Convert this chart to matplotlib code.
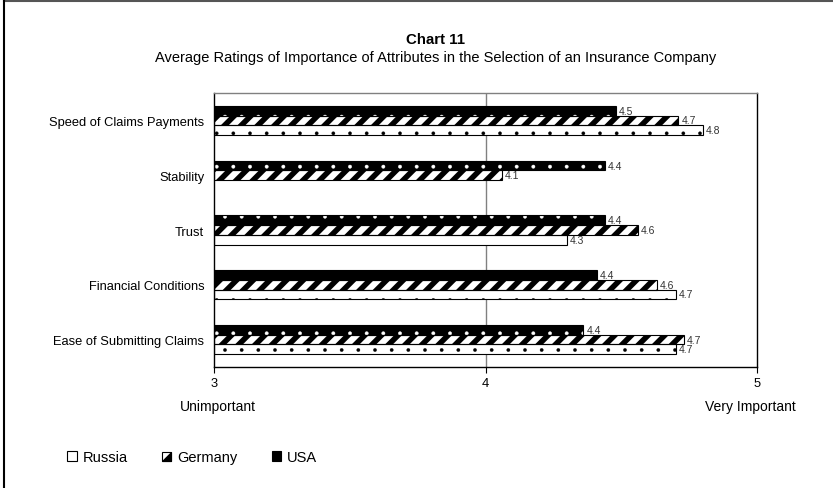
import numpy as np
import matplotlib.pyplot as plt
from matplotlib.patches import Patch, Rectangle, Polygon
from matplotlib.legend_handler import HandlerBase
from matplotlib.lines import Line2D

plt.rcParams['font.family'] = ['Liberation Sans', 'DejaVu Sans']

categories = ['Speed of Claims Payments', 'Stability', 'Trust',
              'Financial Conditions', 'Ease of Submitting Claims']
usa = [4.48, 4.44, 4.44, 4.41, 4.36]
germany = [4.71, 4.06, 4.56, 4.63, 4.73]
russia = [4.80, np.nan, 4.30, 4.70, 4.70]
xticks = [3, 4, 5]


class HalfBox(HandlerBase):
    # legend key: white square with the lower right half black
    def create_artists(self, legend, orig, xd, yd, w, h, fontsize, trans):
        s = min(w, h)
        x0, y0 = xd + (w - s) / 2, yd + (h - s) / 2
        sq = Rectangle((x0, y0), s, s, fc='white', ec='black', lw=0.8, transform=trans)
        tri = Polygon([(x0, y0), (x0 + s, y0), (x0 + s, y0 + s)], closed=True,
                      fc='black', ec='black', lw=0.8, transform=trans)
        return [sq, tri]


fig = plt.figure(figsize=(8.33, 4.89), dpi=100)
ax = fig.add_axes([214 / 833, 1 - 368 / 489, 543 / 833, 274 / 489])

y = np.arange(len(categories))
h = 0.177


def draw_bars(pos, vals, face, hatch_col, hatch, hlw):
    vals = np.array(vals)
    bars = ax.barh(pos, vals - 3, left=3, height=h, color=face,
                   edgecolor=hatch_col, hatch=hatch, linewidth=0, zorder=2)
    for b in bars:
        if hasattr(b, 'set_hatch_linewidth'):
            b.set_hatch_linewidth(hlw)
    ax.barh(pos, vals - 3, left=3, height=h, fill=False,
            edgecolor='black', linewidth=0.8, zorder=3)
    for p, v in zip(pos, vals):
        if not np.isnan(v):
            ax.text(v + 0.012, p, f'{v:.1f}', va='center', ha='left',
                    fontsize=7.5, color='#333333')


draw_bars(y - h, usa, 'black', 'white', '.', 0.3)
draw_bars(y, germany, 'white', 'black', '//', 4.0)
draw_bars(y + h, russia, 'white', 'black', '.', 0.2)

ax.axvline(4, color='#808080', lw=1, zorder=1)

ax.set_xlim(3, 5)
ax.set_ylim(4.5, -0.5)
ax.set_xticks(xticks)
ax.set_xticklabels([str(t) for t in xticks], fontsize=9.3)
ax.set_yticks(y)
ax.set_yticklabels(categories, fontsize=9.3)
ax.tick_params(axis='y', length=0, pad=7)
ax.tick_params(axis='x', length=4, width=0.8, pad=3, direction='out')
for side in ['left', 'right', 'bottom']:
    ax.spines[side].set_color('black')
    ax.spines[side].set_linewidth(1)
ax.spines['top'].set_color('#808080')
ax.spines['top'].set_linewidth(1)

fig.text(436 / 833, 1 - 40 / 489, 'Chart 11', ha='center', va='center',
         fontsize=10.8, fontweight='bold')
fig.text(436 / 833, 1 - 58 / 489,
         'Average Ratings of Importance of Attributes in the Selection of an Insurance Company',
         ha='center', va='center', fontsize=10.5)
fig.text(218 / 833, 1 - 407 / 489, 'Unimportant', ha='center', va='center', fontsize=10)
fig.text(750 / 833, 1 - 407 / 489, 'Very Important', ha='center', va='center', fontsize=10)

handles = [Patch(fc='white', ec='black', lw=0.8),
           Patch(fc='white', ec='black', lw=0.8),
           Patch(fc='black', ec='black', lw=0.8)]
fig.legend(handles, ['Russia', 'Germany', 'USA'], loc='center left',
           bbox_to_anchor=(54 / 833, 1 - 458 / 489), ncol=3, frameon=False,
           fontsize=10.5, handlelength=0.65, handleheight=0.65, handletextpad=0.4,
           columnspacing=2.35, handler_map={handles[1]: HalfBox()})

# outer frame (only top and left edges visible)
fig.add_artist(Line2D([4 / 833, 1], [1 - 1.5 / 489] * 2, color='#555555', lw=1.5))
fig.add_artist(Line2D([4 / 833] * 2, [0, 1 - 1.5 / 489], color='black', lw=1.5))

fig.savefig('out.png', dpi=100)
